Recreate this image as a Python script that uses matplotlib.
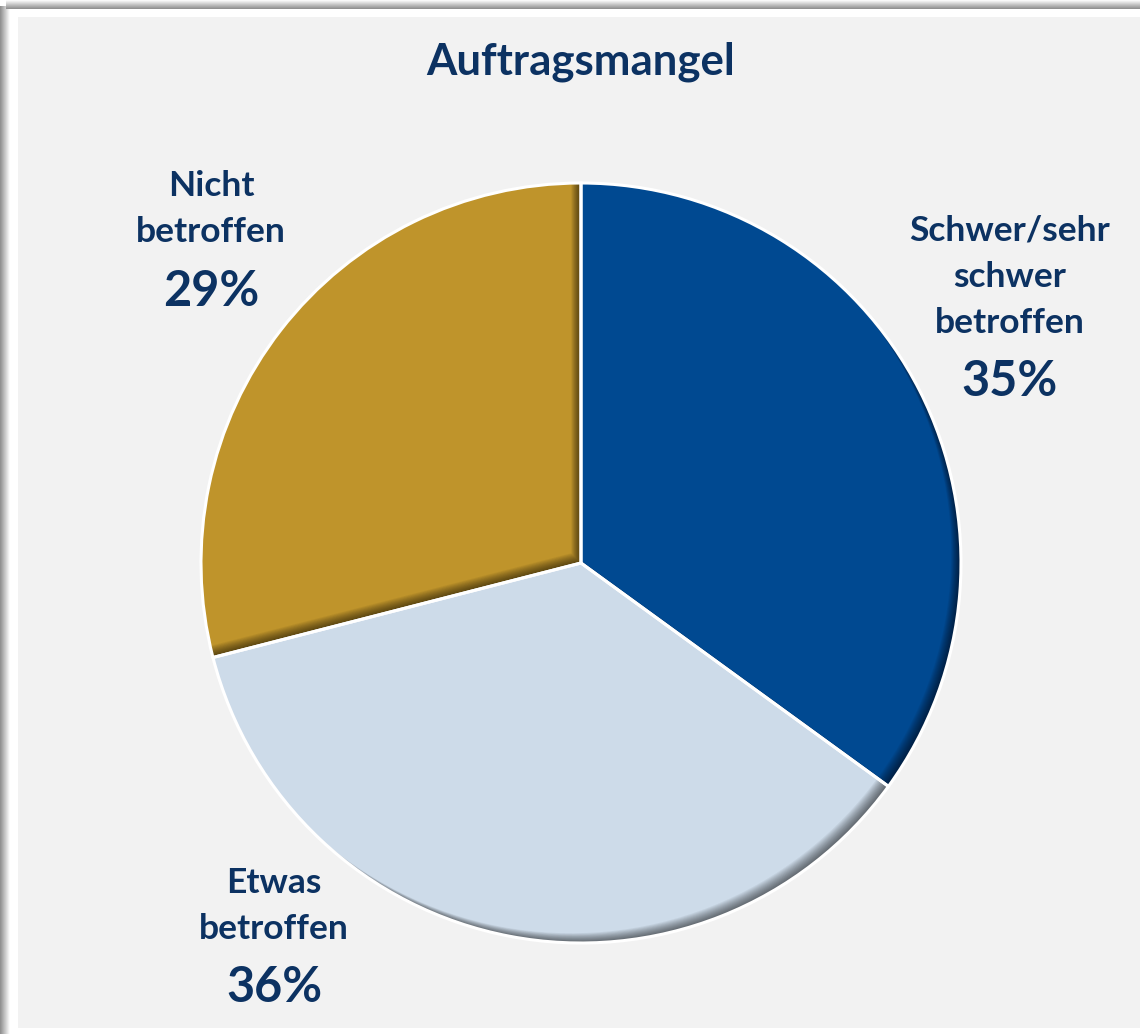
import numpy as np
import matplotlib.pyplot as plt
from matplotlib.path import Path
from matplotlib.patches import PathPatch, Rectangle

plt.rcParams['font.family'] = ['Lato', 'DejaVu Sans']

W, H = 1140, 1034

title = "Auftragsmangel"
labels = ["Schwer/sehr\nschwer\nbetroffen", "Etwas\nbetroffen", "Nicht\nbetroffen"]
values = [35, 36, 29]
colors = ["#004991", "#cddbe9", "#bf942b"]
text_col = "#0c3262"

fig = plt.figure(figsize=(W / 100, H / 100), dpi=100, facecolor="white")
ax = fig.add_axes([0, 0, 1, 1])

# outer shadow on left / top edge of the frame
grad = np.linspace(0.55, 1.0, 50)
ax.imshow(grad[None, :], cmap="gray", vmin=0, vmax=1, extent=(0, 10, 0, H - 6),
          aspect="auto", zorder=0)
ax.imshow(grad[:, None], cmap="gray", vmin=0, vmax=1, extent=(6, W, H, H - 9),
          aspect="auto", zorder=0)
ax.add_patch(Rectangle((18, 6), W - 18, H - 17 - 6, facecolor="#f2f2f2",
                       edgecolor="none", zorder=0.5))

# pie, center (581, 563) in image px
cx, cy, r = 581, H - 563, 380
wedges, _ = ax.pie(values, colors=colors, startangle=90, counterclock=False,
                   center=(cx, cy), radius=r, frame=True,
                   wedgeprops=dict(edgecolor="none"))
ax.set_xlim(0, W)
ax.set_ylim(0, H)
ax.axis("off")

# soft inner shadow towards lower-right
for w in wedges:
    w.set_zorder(1)
    poly = w.get_path().to_polygons()[0]
    xs, ys = poly[:, 0], poly[:, 1]
    box = np.array([[xs.min() - 50, ys.min() - 50], [xs.max() + 50, ys.min() - 50],
                    [xs.max() + 50, ys.max() + 50], [xs.min() - 50, ys.max() + 50],
                    [xs.min() - 50, ys.min() - 50]])
    for d in range(1, 15):
        hole = poly[::-1] + np.array([-d * 0.7, d * 0.7])
        verts = np.vstack([box, hole])
        codes = ([Path.MOVETO] + [Path.LINETO] * 3 + [Path.CLOSEPOLY]
                 + [Path.MOVETO] + [Path.LINETO] * (len(hole) - 2) + [Path.CLOSEPOLY])
        pp = PathPatch(Path(verts, codes), facecolor="black", edgecolor="none",
                       alpha=0.05, zorder=2)
        ax.add_patch(pp)
        pp.set_clip_path(w)

# white separators on top
for w in wedges:
    outline = PathPatch(w.get_path(), facecolor="none", edgecolor="white",
                        linewidth=2.2, zorder=3)
    ax.add_patch(outline)

ax.text(581, H - 62, title, ha="center", va="center", fontsize=31.5,
        fontweight="bold", color=text_col)

label_pos = [(1010, 277, 381), (274, 906, 987), (211, 209, 292)]
for lab, v, (lx, ly, py) in zip(labels, values, label_pos):
    ax.text(lx, H - ly, lab, ha="center", va="center", fontsize=25.5,
            fontweight="bold", color=text_col, linespacing=1.55)
    ax.text(lx, H - py, f"{v}%", ha="center", va="center", fontsize=35,
            fontweight="bold", color=text_col)

fig.savefig("out.png", dpi=100, facecolor=fig.get_facecolor())
